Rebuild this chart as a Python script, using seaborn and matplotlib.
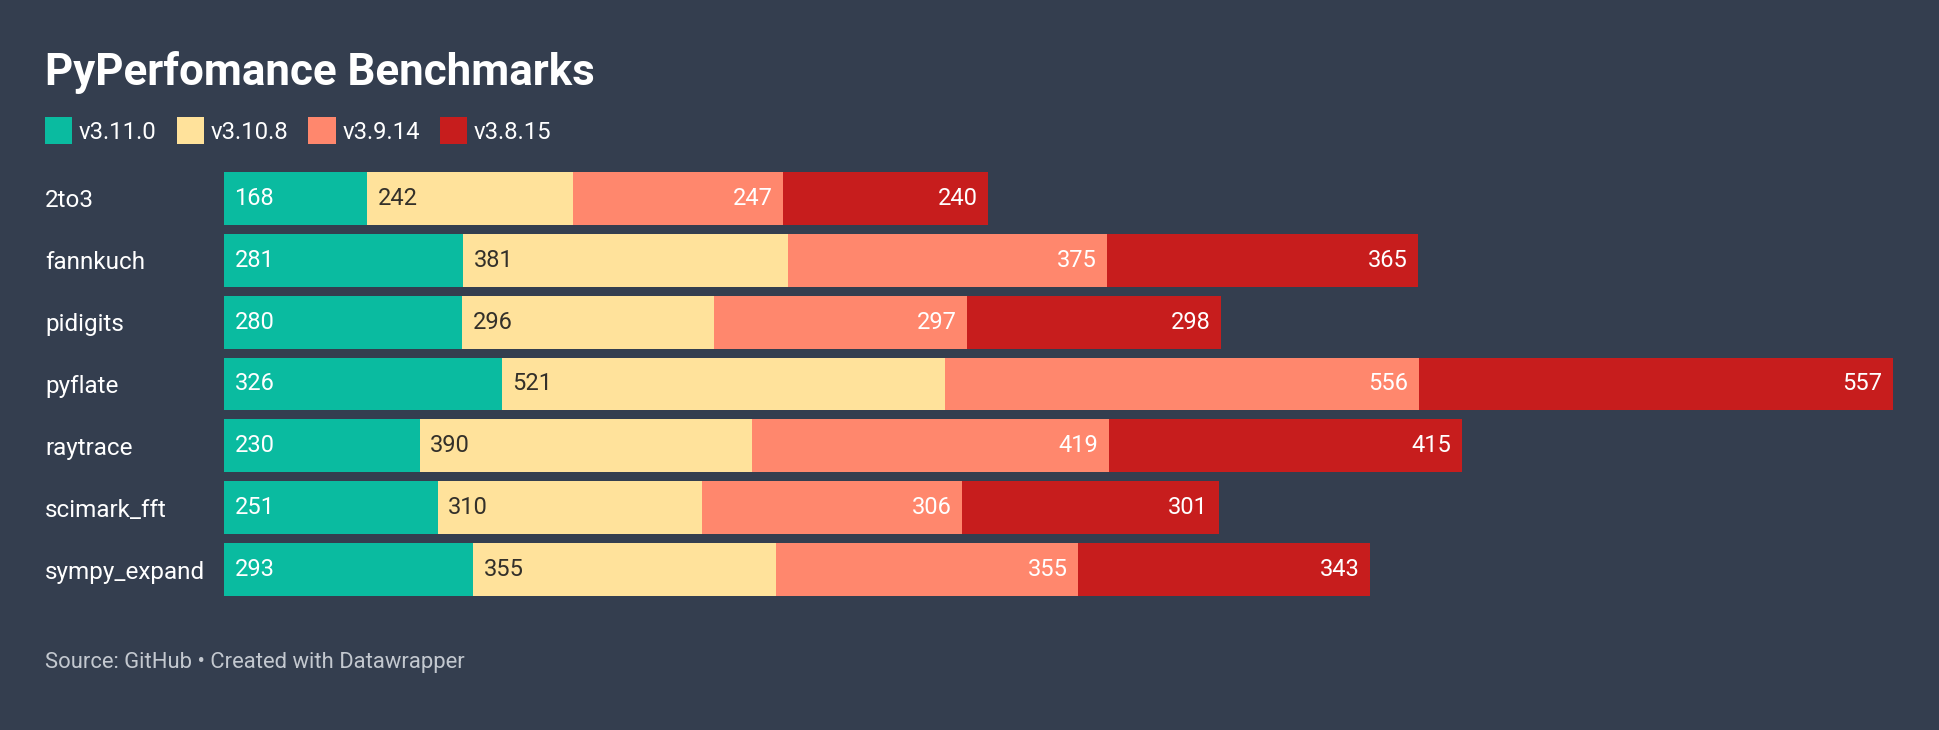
import numpy as np
import matplotlib
matplotlib.use("Agg")
import matplotlib.pyplot as plt
from matplotlib.patches import Patch
import seaborn as sns

# data
benchmarks = ["2to3", "fannkuch", "pidigits", "pyflate", "raytrace", "scimark_fft", "sympy_expand"]
versions = ["v3.11.0", "v3.10.8", "v3.9.14", "v3.8.15"]
v3_11_0 = [168, 281, 280, 326, 230, 251, 293]
v3_10_8 = [242, 381, 296, 521, 390, 310, 355]
v3_9_14 = [247, 375, 297, 556, 419, 306, 355]
v3_8_15 = [240, 365, 298, 557, 415, 301, 343]

colors = ["#0abba0", "#ffe29b", "#ff876d", "#c71d1d"]
text_colors = ["white", "#33302a", "white", "white"]
bg = "#343e4f"

sns.set_theme(style="dark", rc={"axes.facecolor": bg, "figure.facecolor": bg})
plt.rcParams["font.family"] = ["Roboto", "DejaVu Sans"]

W, H = 1940, 730
fig = plt.figure(figsize=(W / 100, H / 100), dpi=100)
ax = fig.add_axes([224 / W, 1 - 596 / H, (1893 - 224) / W, (596 - 172) / H])

series = [v3_11_0, v3_10_8, v3_9_14, v3_8_15]
stack = np.cumsum(np.array(series), axis=0)

# draw longest cumulative first so the shorter ones sit on top
for i in range(3, -1, -1):
    sns.barplot(x=stack[i], y=benchmarks, color=colors[i], saturation=1,
                width=0.855, linewidth=0, orient="h", ax=ax)

# value labels
for i, vals in enumerate(series):
    starts = stack[i] - np.array(vals)
    for j, v in enumerate(vals):
        if i < 2:
            ax.annotate(str(v), (starts[j], j), xytext=(7.5, 0), textcoords="offset points",
                        ha="left", va="center", color=text_colors[i], fontsize=17)
        else:
            ax.annotate(str(v), (stack[i][j], j), xytext=(-7.5, 0), textcoords="offset points",
                        ha="right", va="center", color=text_colors[i], fontsize=17)

ax.set_xlim(0, 1960)
ax.set_ylim(6.4275, -0.4275)
ax.set_xlabel("")
ax.set_ylabel("")
ax.set_xticks([])
for s in ax.spines.values():
    s.set_visible(False)
ax.tick_params(axis="y", length=0, pad=(224 - 45) * 0.72, labelsize=17.5, labelcolor="white")
for lab in ax.get_yticklabels():
    lab.set_horizontalalignment("left")

# title, legend, footer
fig.text(45 / W, 1 - 85 / H, "PyPerfomance Benchmarks", fontsize=31.6, fontweight="bold",
         color="white", va="baseline")

handles = [Patch(facecolor=c, edgecolor="none") for c in colors]
fig.legend(handles, versions, loc="upper left", bbox_to_anchor=(45 / W, 1 - 117 / H),
           ncol=4, frameon=False, fontsize=17.2, labelcolor="white", borderpad=0,
           borderaxespad=0, handlelength=1.15, handleheight=1.38, handletextpad=0.26,
           columnspacing=0.85)

fig.text(45 / W, 1 - 668 / H, "Source: GitHub • Created with Datawrapper", fontsize=15.8,
         color="#c3c8cf", va="baseline")

fig.savefig("out.png", dpi=100, facecolor=bg)
